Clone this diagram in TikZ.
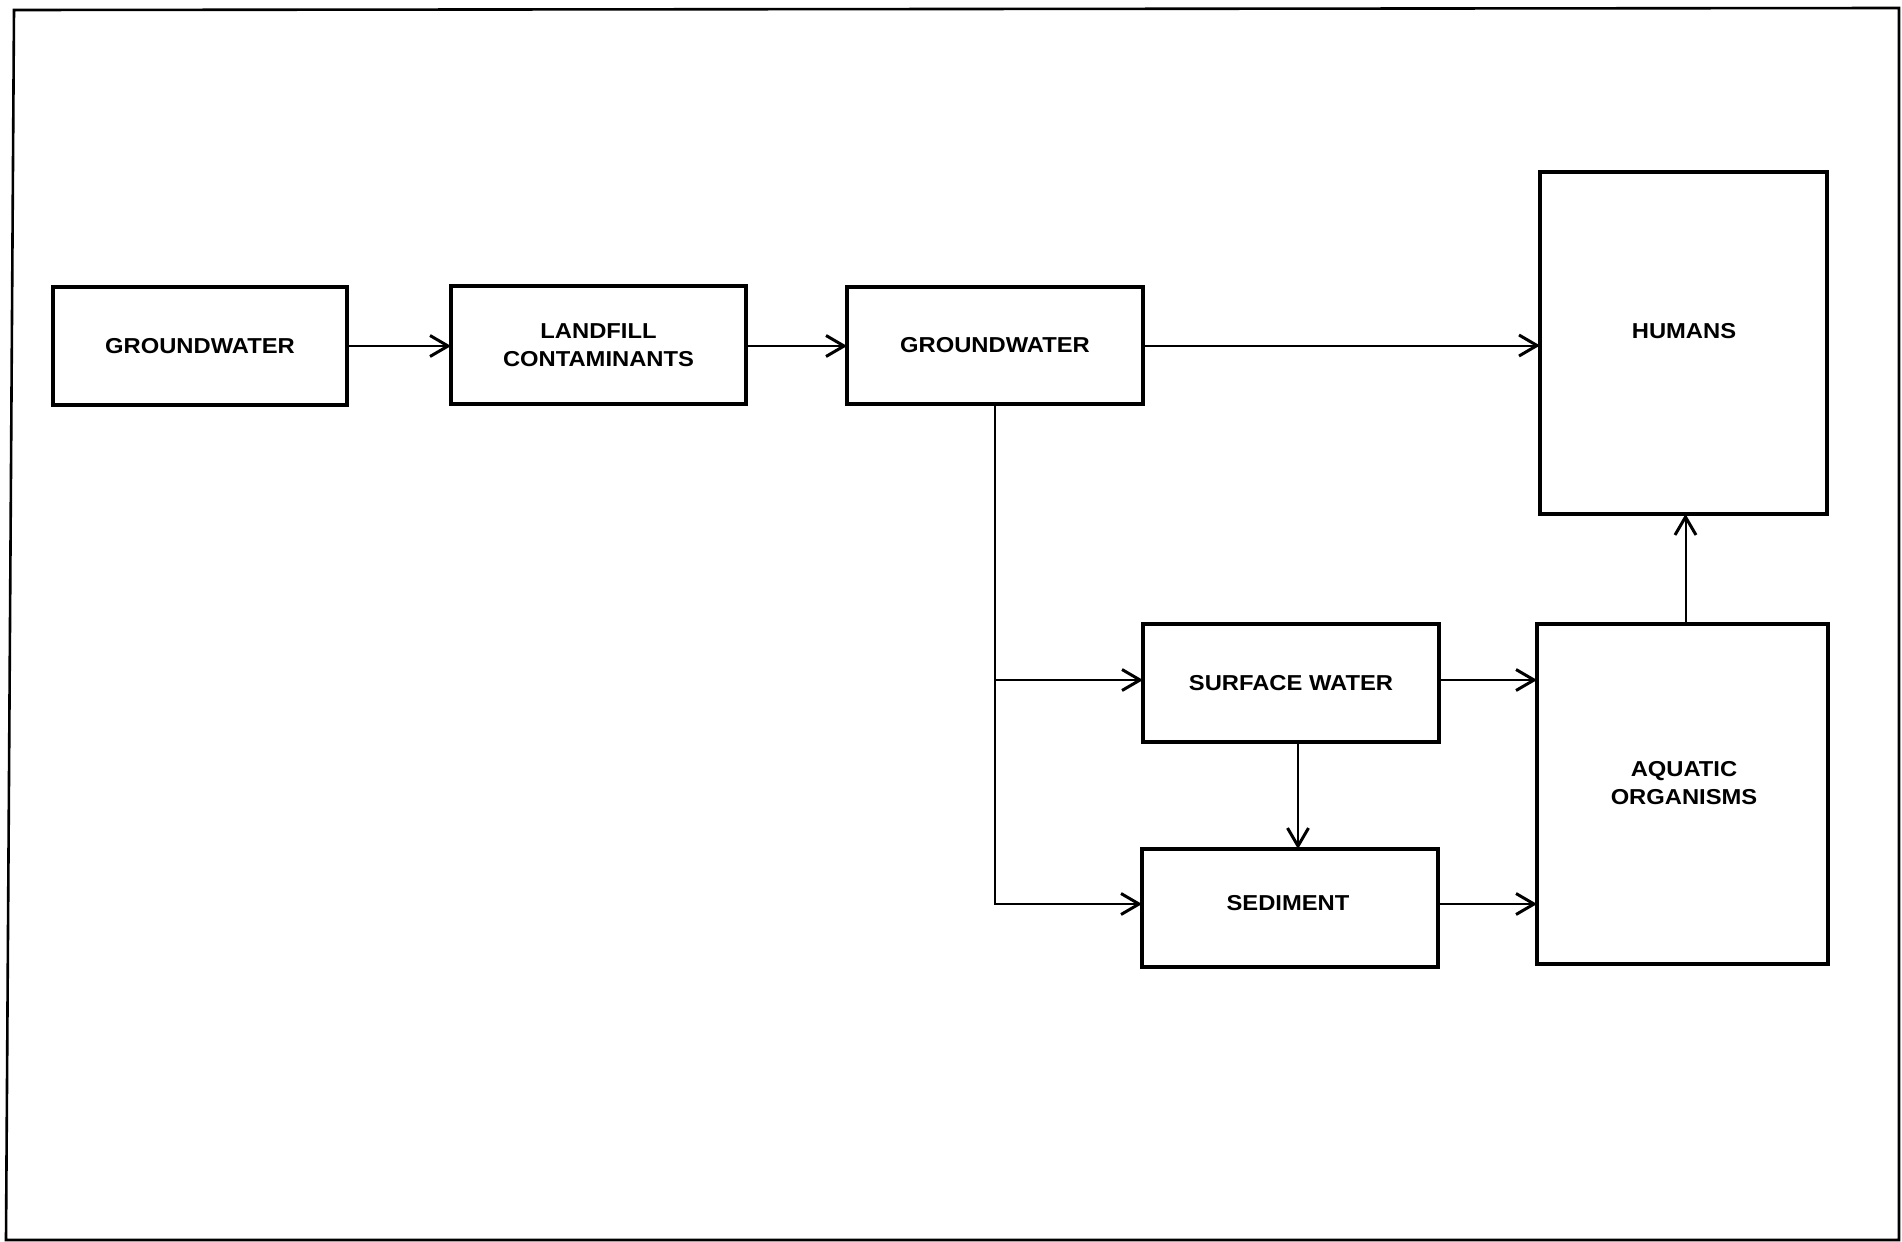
\documentclass[tikz,border=0pt]{standalone}
\usepackage{fontspec}
\setmainfont{Liberation Sans}[FakeStretch=1.1]
\usetikzlibrary{arrows.meta,calc}
\begin{document}
\begin{tikzpicture}[x=0.5pt,y=-0.5pt,
  box/.style={draw, line width=1.8pt, inner sep=0pt, outer sep=0pt, rectangle},
  lbl/.style={font=\fontsize{10.8}{14}\selectfont\bfseries, align=center, inner sep=0pt},
  arr/.style={line width=1pt, -{Straight Barb[length=9pt,width=10.5pt,line width=1.5pt]}}]
\useasboundingbox (0,0) rectangle (1902,1242);
% frame
\draw[line width=1.3pt] (14,10) -- (1899,8) -- (1899,1240) -- (6,1240) -- cycle;
% boxes
\node[box, minimum width=147pt, minimum height=59pt] (g1) at (200,346) {};
\node[lbl] at (g1.center) {GROUNDWATER};
\node[box, minimum width=147.5pt, minimum height=59pt] (lf) at (598.5,345) {};
\node[lbl] at (lf.center) {LANDFILL\\CONTAMINANTS};
\node[box, minimum width=148pt, minimum height=58.5pt] (g2) at (995,345.5) {};
\node[lbl] at (g2.center) {GROUNDWATER};
\node[box, minimum width=143.5pt, minimum height=171pt] (hu) at (1683.5,343) {};
\node[lbl] at (1684,331) {HUMANS};
\node[box, minimum width=148pt, minimum height=59pt] (sw) at (1291,683) {};
\node[lbl] at (sw.center) {SURFACE WATER};
\node[box, minimum width=148pt, minimum height=59pt] (sed) at (1290,908) {};
\node[lbl] at (1288,903) {SEDIMENT};
\node[box, minimum width=145.5pt, minimum height=170pt] (aq) at (1682.5,794) {};
\node[lbl] at (1684,783) {AQUATIC\\ORGANISMS};
% connectors
\draw[arr] (g1.east) -- (g1.east -| lf.west);
\draw[arr] (lf.east |- g1.east) -- (g1.east -| g2.west);
\draw[arr] (g2.east) -- (g2.east -| hu.west);
\draw[arr] (g2.south) |- ([yshift=1.5pt]sw.west);
\draw[arr] (g2.south) |- ([yshift=2pt]sed.west);
\draw[arr] ([yshift=1.5pt]sw.east) -- ([yshift=1.5pt]sw.east -| aq.west);
\draw[arr] ([yshift=2pt]sed.east) -- ([yshift=2pt]sed.east -| aq.west);
\draw[arr] ([xshift=3.5pt]sw.south) -- ([xshift=3.5pt]sw.south |- sed.north);
\draw[arr] ([xshift=1.5pt]aq.north) -- ([xshift=1.5pt]aq.north |- hu.south);
\end{tikzpicture}
\end{document}
